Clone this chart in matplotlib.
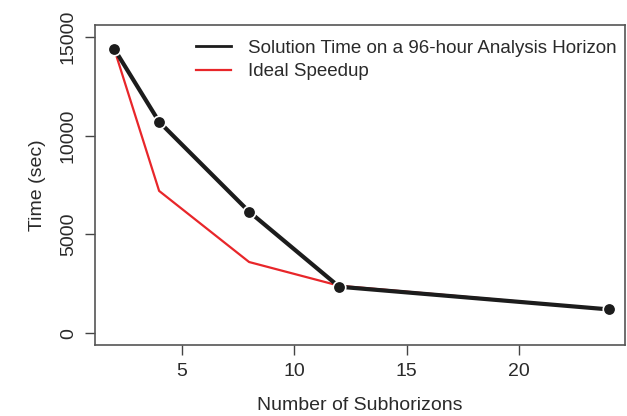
import matplotlib
matplotlib.use('Agg')
import matplotlib.pyplot as plt

plt.rcParams['font.family'] = ['Liberation Sans', 'DejaVu Sans']

# Datos
subhorizons = [2, 4, 8, 12, 24]
solution_time = [14400, 10700, 6150, 2350, 1200]
ideal_speedup = [14400, 7200, 3600, 2400, 1200]
x_ticks = [5, 10, 15, 20]
y_ticks = [0, 5000, 10000, 15000]

fig = plt.figure(figsize=(6.27, 4.16), dpi=100)
ax = fig.add_axes([0.1515, 0.1707, 0.845, 0.7693])

ax.plot(subhorizons, ideal_speedup, color='#e8262a', lw=1.6,
        label='Ideal Speedup', zorder=2)
ax.plot(subhorizons, solution_time, color='#1c1c1c', lw=3.0, zorder=3)
ax.plot(subhorizons, solution_time, 'o', color='#1c1c1c', ms=9,
        mec='white', mew=1.2, zorder=4)
h1, = ax.plot([], [], color='#1c1c1c', lw=2.0,
              label='Solution Time on a 96-hour Analysis Horizon')

ax.set_xlim(1.15, 24.7)
ax.set_ylim(-600, 15600)
ax.set_xticks(x_ticks)
ax.set_yticks(y_ticks)
ax.set_yticklabels([str(v) for v in y_ticks], rotation=90, va='center')
ax.tick_params(direction='out', length=7, width=1, colors='#444444',
               labelsize=14, labelcolor='#2a2a2a', pad=6)
for s in ax.spines.values():
    s.set_color('#555555')
    s.set_linewidth(1.2)

ax.set_xlabel('Number of Subhorizons', fontsize=14, color='#2a2a2a', labelpad=12)
ax.set_ylabel('Time (sec)', fontsize=14, color='#2a2a2a', labelpad=10)

handles, labels = ax.get_legend_handles_labels()
ax.legend([h1, handles[0]], [labels[1], labels[0]], loc='upper right',
          bbox_to_anchor=(1.0, 0.981), frameon=False, fontsize=13.5,
          handlelength=1.87, handletextpad=0.9, labelspacing=0.36,
          borderaxespad=0.1, borderpad=0.35, labelcolor='#2a2a2a')

plt.savefig('out.png', dpi=100)
